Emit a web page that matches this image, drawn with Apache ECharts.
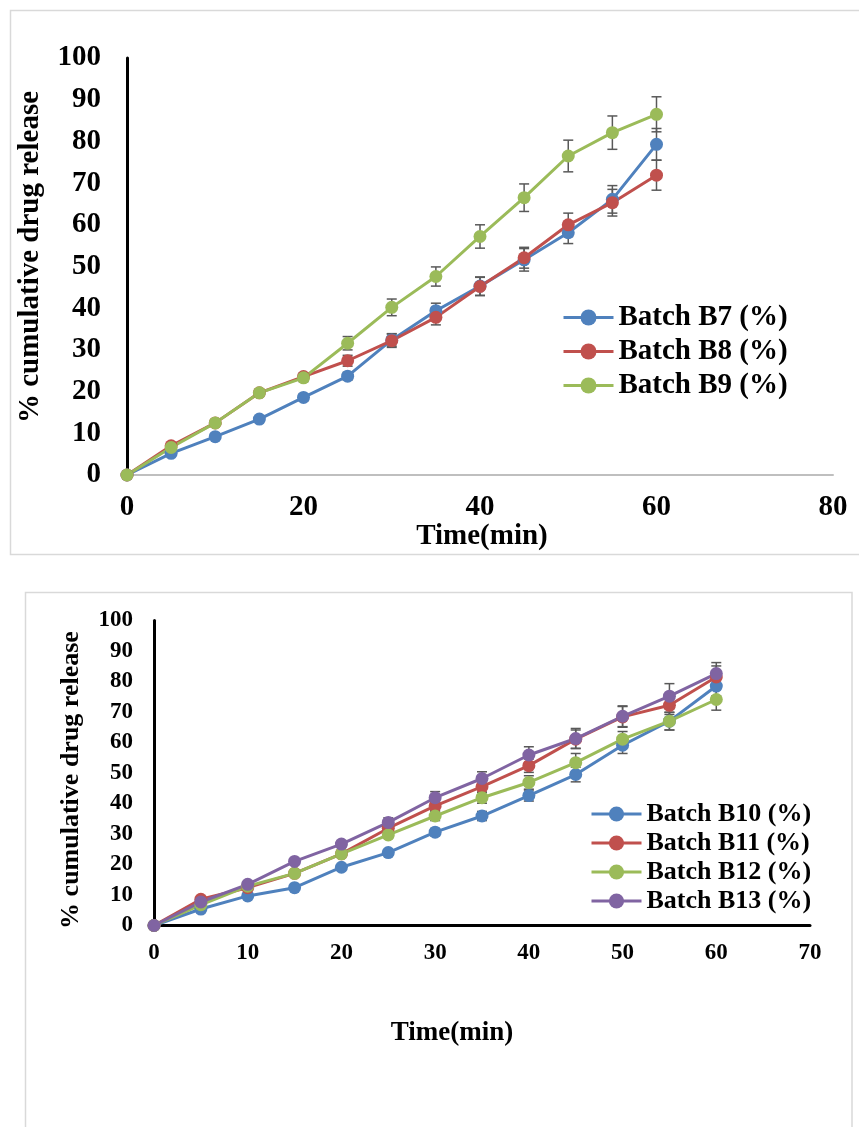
<!DOCTYPE html>
<html><head><meta charset="utf-8">
<script src="https://cdn.jsdelivr.net/npm/echarts@6/dist/echarts.min.js"></script>
<style>html,body{margin:0;padding:0;background:#fff}#c{width:859px;height:1127px}</style>
</head><body><div id="c"></div>
<script>
// ---- data ----
const time = [0, 5, 10, 15, 20, 25, 30, 35, 40, 45, 50, 55, 60];

// Chart 1
const namesTop = ['Batch B7 (%)', 'Batch B8 (%)', 'Batch B9 (%)'];
const b7 = [0, 5.2, 9.2, 13.4, 18.6, 23.7, 32.4, 39.4, 45.3, 51.6, 58.1, 66.1, 79.3];
const b8 = [0, 7.0, 12.5, 19.7, 23.6, 27.4, 32.2, 37.8, 45.2, 52.1, 60.0, 65.3, 71.9];
const b9 = [0, 6.6, 12.5, 19.7, 23.3, 31.6, 40.2, 47.6, 57.2, 66.5, 76.5, 82.1, 86.5];
const b7Err = [0, 0.4, 0.5, 0.6, 0.8, 0.9, 1.5, 1.8, 2.2, 2.7, 2.6, 3.3, 3.8];
const b8Err = [0, 0.5, 0.5, 0.6, 0.8, 1.3, 1.6, 1.8, 2.2, 2.5, 2.8, 3.2, 3.6];
const b9Err = [0, 0.5, 0.6, 0.7, 0.9, 1.6, 2.0, 2.3, 2.8, 3.3, 3.8, 4.0, 4.2];
const xTicksTop = [0, 80, 20];   // min, max, interval
const yTicks = [0, 100, 10];

// Chart 2
const namesBottom = ['Batch B10 (%)', 'Batch B11 (%)', 'Batch B12 (%)', 'Batch B13 (%)'];
const b10 = [0, 5.4, 9.7, 12.4, 19.1, 23.9, 30.6, 35.9, 42.6, 49.5, 59.1, 67.0, 78.5];
const b11 = [0, 8.6, 12.4, 17.1, 23.5, 31.9, 39.2, 45.5, 52.4, 61.1, 68.4, 72.2, 81.5];
const b12 = [0, 6.8, 12.9, 17.1, 23.5, 29.7, 35.9, 41.9, 46.9, 53.4, 61.1, 67.0, 74.1];
const b13 = [0, 7.7, 13.5, 21.0, 26.7, 33.8, 41.9, 48.2, 55.9, 61.3, 68.6, 75.2, 82.6];
const b10Err = [0, 0.4, 0.5, 0.6, 0.7, 0.9, 1.2, 1.5, 1.8, 2.4, 2.7, 2.9, 3.2];
const b11Err = [0, 0.5, 0.6, 0.7, 0.9, 1.2, 1.5, 1.8, 2.2, 3.0, 3.4, 3.0, 3.6];
const b12Err = [0, 0.4, 0.5, 0.6, 0.8, 1.0, 1.5, 1.8, 2.2, 3.0, 2.5, 2.9, 3.5];
const b13Err = [0, 0.5, 0.6, 0.8, 1.0, 1.5, 2.0, 2.2, 2.7, 3.3, 3.4, 4.1, 3.6];
const xTicksBottom = [0, 70, 10];

const yTitle = '% cumulative drug release';
const xTitle = 'Time(min)';

// ---- styles ----
const COLORS = ['#4F81BD', '#C0504D', '#9BBB59', '#8064A2'];
const ERR = '#595959';
const TNR = '"Liberation Serif", "Times New Roman", serif';

function lineSeries(name, vals, color, idx, size) {
  return {
    type: 'line', name, xAxisIndex: idx, yAxisIndex: idx,
    data: time.map((t, i) => [t, vals[i]]),
    symbol: 'circle', symbolSize: size, color: color,
    lineStyle: { width: 3, color }, itemStyle: { color },
    z: 3, emphasis: { disabled: true }, animation: false
  };
}
function errSeries(vals, errs, idx) {
  return {
    type: 'custom', xAxisIndex: idx, yAxisIndex: idx, z: 2, silent: true, animation: false,
    data: time.map((t, i) => [t, vals[i], errs[i]]),
    encode: { x: 0, y: 1 },
    renderItem(params, api) {
      const x = api.value(0), v = api.value(1), e = api.value(2);
      if (!e) return null;
      const p1 = api.coord([x, v + e]), p2 = api.coord([x, v - e]);
      const hw = 5, st = { stroke: ERR, lineWidth: 1.5 };
      return { type: 'group', children: [
        { type: 'line', shape: { x1: p1[0], y1: p1[1], x2: p2[0], y2: p2[1] }, style: st },
        { type: 'line', shape: { x1: p1[0] - hw, y1: p1[1], x2: p1[0] + hw, y2: p1[1] }, style: st },
        { type: 'line', shape: { x1: p2[0] - hw, y1: p2[1], x2: p2[0] + hw, y2: p2[1] }, style: st }
      ]};
    }
  };
}

const topVals = [b7, b8, b9], topErrs = [b7Err, b8Err, b9Err];
const botVals = [b10, b11, b12, b13], botErrs = [b10Err, b11Err, b12Err, b13Err];
const series = [];
topVals.forEach((v, i) => series.push(errSeries(v, topErrs[i], 0)));
botVals.forEach((v, i) => series.push(errSeries(v, botErrs[i], 1)));
topVals.forEach((v, i) => series.push(lineSeries(namesTop[i], v, COLORS[i], 0, 13)));
botVals.forEach((v, i) => series.push(lineSeries(namesBottom[i], v, COLORS[i], 1, 13)));

const lblTop = { fontFamily: TNR, fontWeight: 'bold', fontSize: 29, color: '#000' };
const lblBot = { fontFamily: TNR, fontWeight: 'bold', fontSize: 23, color: '#000' };

const option = {
  animation: false,
  backgroundColor: '#fff',
  grid: [
    { left: 127, top: 58, width: 706, height: 417 },
    { left: 154, top: 620.5, width: 656, height: 305 }
  ],
  xAxis: [
    { gridIndex: 0, type: 'value', min: xTicksTop[0], max: xTicksTop[1], interval: xTicksTop[2],
      axisLine: { show: true, lineStyle: { color: '#bfbfbf', width: 2 } },
      axisTick: { show: false }, splitLine: { show: false },
      axisLabel: Object.assign({ margin: 18 }, lblTop) },
    { gridIndex: 1, type: 'value', min: xTicksBottom[0], max: xTicksBottom[1], interval: xTicksBottom[2],
      axisLine: { show: true, lineStyle: { color: '#000', width: 3 } },
      axisTick: { show: false }, splitLine: { show: false },
      axisLabel: Object.assign({ margin: 16 }, lblBot) }
  ],
  yAxis: [
    { gridIndex: 0, type: 'value', min: yTicks[0], max: yTicks[1], interval: yTicks[2],
      axisLine: { show: true, lineStyle: { color: '#000', width: 3 } },
      axisTick: { show: false }, splitLine: { show: false },
      axisLabel: Object.assign({ margin: 26 }, lblTop) },
    { gridIndex: 1, type: 'value', min: yTicks[0], max: yTicks[1], interval: yTicks[2],
      axisLine: { show: true, lineStyle: { color: '#000', width: 3 } },
      axisTick: { show: false }, splitLine: { show: false },
      axisLabel: Object.assign({ margin: 21 }, lblBot) }
  ],
  legend: [
    { orient: 'vertical', left: 562, top: 303, padding: 0, itemWidth: 50, itemHeight: 20, itemGap: 5,
      data: namesTop, selectedMode: false, lineStyle: { width: 3 },
      textStyle: { fontFamily: TNR, fontWeight: 'bold', fontSize: 29, lineHeight: 29, color: '#000' } },
    { orient: 'vertical', left: 590, top: 801, padding: 0, itemWidth: 50, itemHeight: 19, itemGap: 3,
      data: namesBottom, selectedMode: false, lineStyle: { width: 3 },
      textStyle: { fontFamily: TNR, fontWeight: 'bold', fontSize: 26, lineHeight: 26, color: '#000' } }
  ],
  graphic: [
    { type: 'rect', shape: { x: 10.5, y: 10.5, width: 870, height: 544 },
      style: { fill: 'none', stroke: '#d9d9d9', lineWidth: 1.5 }, silent: true, z: -1 },
    { type: 'rect', shape: { x: 25.5, y: 592.5, width: 826.5, height: 600 },
      style: { fill: 'none', stroke: '#d9d9d9', lineWidth: 1.5 }, silent: true, z: -1 },
    { type: 'text', x: 31, y: 257, rotation: Math.PI / 2,
      style: { text: yTitle, font: 'bold 29px ' + TNR, fill: '#000', align: 'center', verticalAlign: 'middle' } },
    { type: 'text', x: 482, y: 537,
      style: { text: xTitle, font: 'bold 29px ' + TNR, fill: '#000', align: 'center', verticalAlign: 'middle' } },
    { type: 'text', x: 71, y: 780, rotation: Math.PI / 2,
      style: { text: yTitle, font: 'bold 26px ' + TNR, fill: '#000', align: 'center', verticalAlign: 'middle' } },
    { type: 'text', x: 452, y: 1033,
      style: { text: xTitle, font: 'bold 27px ' + TNR, fill: '#000', align: 'center', verticalAlign: 'middle' } }
  ],
  series
};
const chart = echarts.init(document.getElementById('c'));
chart.setOption(option);
</script>
</body></html>
